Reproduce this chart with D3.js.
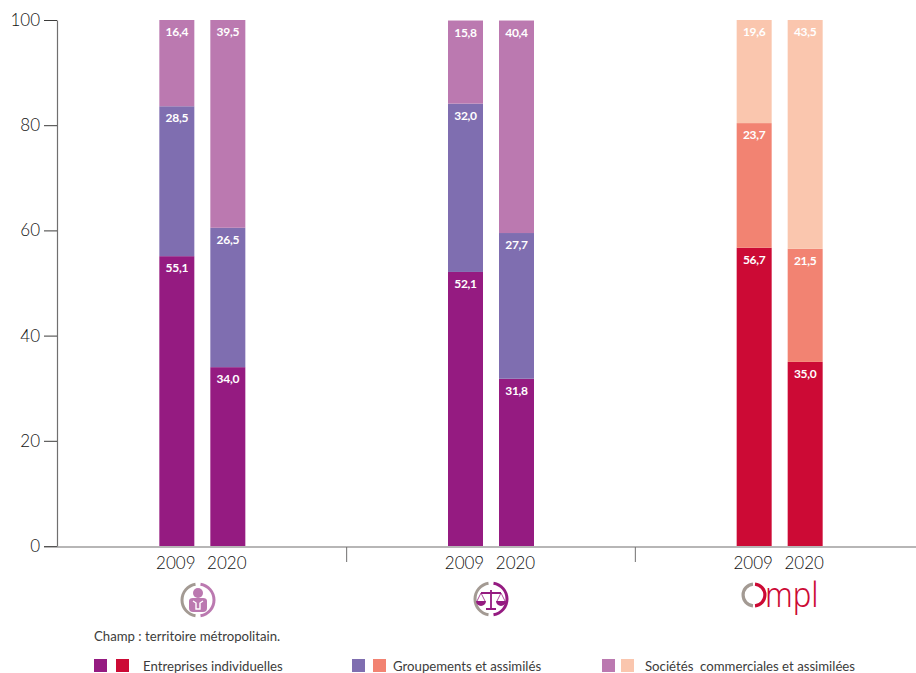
<!DOCTYPE html>
<html>
<head>
<meta charset="utf-8">
<script src="https://cdn.jsdelivr.net/npm/d3@7"></script>
<style>
  html, body { margin: 0; padding: 0; background: #fff; overflow: hidden; }
  text { font-family: Lato, sans-serif; fill: #3c3c3b; }
</style>
</head>
<body>
<svg id="chart"></svg>
<script>
// Data
const groups = ['experts', 'juridique', 'ompl'];
const years = ['2009', '2020'];
const individuelles = [55.1, 34.0, 52.1, 31.8, 56.7, 35.0];
const groupements = [28.5, 26.5, 32.0, 27.7, 23.7, 21.5];
const societes = [16.4, 39.5, 15.8, 40.4, 19.6, 43.5];
const yTicks = [0, 20, 40, 60, 80, 100];
const legendLabels = ['Entreprises individuelles', 'Groupements et assimilés', 'Sociétés  commerciales et assimilées'];

const violet = ['#951b81', '#7f6eb0', '#bb79b0'];
const rouge = ['#cc0a35', '#f28372', '#fac6ae'];
const gris = '#a39a93';

const width = 916, height = 673;
const svg = d3.select('#chart').attr('width', width).attr('height', height);

// Scales
const y = d3.scaleLinear().domain([0, 100]).range([546, 20]);
const x0 = d3.scaleBand().domain(groups).range([58, 924]);
const x1 = d3.scaleBand().domain(years).range([0, 86]).paddingInner(16 / 51);
const groupX = g => x0(g) + x0.bandwidth() / 2 - 43;

// Stack the three series
const rows = [];
groups.forEach((g, i) => years.forEach((yr, j) => {
  const k = i * 2 + j;
  rows.push({ group: g, year: yr, a: individuelles[k], b: groupements[k], c: societes[k] });
}));
const stack = d3.stack().keys(['a', 'b', 'c'])(rows);

// Bars
const layer = svg.append('g').selectAll('g').data(stack).enter().append('g');
layer.selectAll('rect')
  .data((s, i) => s.map(d => ({ d, i })))
  .enter().append('rect')
  .attr('x', p => groupX(p.d.data.group) + x1(p.d.data.year))
  .attr('y', p => y(p.d[1]))
  .attr('width', x1.bandwidth())
  .attr('height', p => y(p.d[0]) - y(p.d[1]))
  .attr('fill', p => (p.d.data.group === 'ompl' ? rouge : violet)[p.i]);

// Value labels
layer.selectAll('text')
  .data(s => s)
  .enter().append('text')
  .attr('x', d => groupX(d.data.group) + x1(d.data.year) + x1.bandwidth() / 2)
  .attr('y', d => y(d[1]) + 16)
  .attr('text-anchor', 'middle')
  .style('fill', '#fff')
  .style('font-size', '12px')
  .style('letter-spacing', '-0.3px')
  .style('font-weight', 700)
  .text(d => d3.format('.1f')(d[1] - d[0]).replace('.', ','));

// Y axis
const yAxis = svg.append('g')
  .attr('transform', 'translate(57,0)')
  .call(d3.axisLeft(y).tickValues(yTicks).tickSize(13).tickPadding(4).tickSizeOuter(0));
yAxis.select('.domain').attr('stroke', '#706f6f').attr('stroke-width', 1.2);
yAxis.selectAll('.tick line').attr('stroke', '#3c3c3b').attr('stroke-width', 1);
yAxis.selectAll('.tick text').style('font-size', '17px').style('font-weight', 300)
  .style('font-family', 'Lato, sans-serif').style('fill', '#111');

// Baseline and group separators
svg.append('line').attr('x1', 44).attr('x2', 916).attr('y1', 547).attr('y2', 547)
  .attr('stroke', '#706f6f').attr('stroke-width', 1.2);
svg.selectAll('.sep').data(groups.slice(1)).enter().append('line')
  .attr('x1', g => x0(g)).attr('x2', g => x0(g))
  .attr('y1', 547).attr('y2', 562)
  .attr('stroke', '#706f6f');

// Year labels
groups.forEach(g => {
  svg.selectAll(null).data(years).enter().append('text')
    .attr('x', yr => groupX(g) + x1(yr) + x1.bandwidth() / 2 - 1)
    .attr('y', 569)
    .attr('text-anchor', 'middle')
    .style('font-size', '17px')
    .style('font-weight', 300)
    .style('fill', '#111')
    .text(yr => yr);
});

// Ring used by the three icons: grey left half, coloured right half
function ring(cx, cy, r, w, col, gap = 0.05) {
  const g = svg.append('g').attr('transform', `translate(${cx},${cy})`);
  const a = d3.arc().innerRadius(r - w).outerRadius(r);
  g.append('path').attr('d', a({ startAngle: Math.PI * (1 + gap), endAngle: Math.PI * (2 - gap) })).attr('fill', gris);
  g.append('path').attr('d', a({ startAngle: Math.PI * gap, endAngle: Math.PI * (1 - gap) })).attr('fill', col);
  return g;
}

// Icon 1: person
const ic1 = ring(198, 600, 17.5, 3, violet[2]);
ic1.append('circle').attr('cy', -7).attr('r', 5).attr('fill', violet[2]);
ic1.append('path').attr('d', 'M-9,1 Q-9,-2 -5,-2 L5,-2 Q9,-2 9,1 L9,8 Q9,12 5,12 L-5,12 Q-9,12 -9,8 Z').attr('fill', violet[2]);
ic1.append('path').attr('d', 'M-5,1 L-2,3 L-2,9 L2,9 L2,3 L5,1').attr('fill', 'none').attr('stroke', '#fff').attr('stroke-width', 1.4);

// Icon 2: scales
const ic2 = ring(491, 599, 17.5, 3, violet[0]);
const scale = ic2.append('g').attr('stroke', violet[0]).attr('fill', 'none').attr('stroke-width', 1.2);
scale.append('path').attr('d', 'M-10,-6 L10,-6 M0,-9 L0,9').attr('stroke-width', 1.8);
scale.append('path').attr('d', 'M-5,10 L5,10').attr('stroke-width', 2);
scale.append('path').attr('d', 'M-10,-6 L-14,2 M-10,-6 L-6,2 M10,-6 L14,2 M10,-6 L6,2').attr('stroke-width', 0.8);
ic2.append('path').attr('d', 'M-15,2 L-5,2 A5,5 0 0 1 -15,2 Z M5,2 L15,2 A5,5 0 0 1 5,2 Z').attr('fill', violet[0]);

// Logo Ompl
ring(754, 595, 12.5, 3.2, rouge[0], 0.03);
svg.append('text').attr('transform', 'translate(765,607) scale(1,1.1)')
  .style('font-size', '31px').style('font-family', '"Noto Sans", sans-serif').style('font-weight', 300)
  .style('fill', rouge[0]).text('mpl');

// Scope note
svg.append('text').attr('x', 94).attr('y', 641).style('font-size', '13.2px').text('Champ : territoire métropolitain.');

// Legend
const legendX = [[94, 116, 143], [352, 373, 393], [602, 621, 645]];
legendLabels.forEach((label, i) => {
  svg.append('rect').attr('x', legendX[i][0]).attr('y', 659).attr('width', 13).attr('height', 13).attr('fill', violet[i]);
  svg.append('rect').attr('x', legendX[i][1]).attr('y', 659).attr('width', 13).attr('height', 13).attr('fill', rouge[i]);
  svg.append('text').attr('x', legendX[i][2]).attr('y', 671).style('font-size', '13.2px').style('white-space', 'pre').text(label);
});
</script>
</body>
</html>
